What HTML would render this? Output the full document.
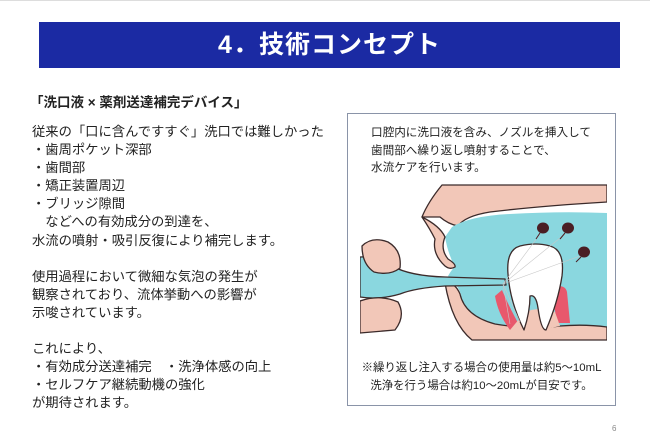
<!DOCTYPE html>
<html><head><meta charset="utf-8"><style>
body{margin:0;width:650px;height:447px;background:#fff;position:relative;overflow:hidden;font-family:"Liberation Sans","Noto Sans CJK JP",sans-serif;color:#222}
.top{position:absolute;left:0;top:0;width:650px;height:1px;background:#ddd}
.banner{position:absolute;left:39px;top:22px;width:581px;height:46px;background:#1b2aa3;color:#fff;font-size:25px;font-weight:bold;text-align:center;line-height:46px;letter-spacing:1px}
.sub{position:absolute;left:30px;top:91px;font-size:13.5px;font-weight:bold}
.body{position:absolute;left:32px;top:123px;font-size:13.3px;line-height:18.1px;white-space:pre}
.box{position:absolute;left:347px;top:113px;width:269px;height:293px;border:1px solid #8a94a8;box-sizing:border-box}
.bt{position:absolute;left:371px;top:124px;font-size:11.6px;line-height:17.5px;white-space:pre}
.fn{position:absolute;left:347px;top:359px;width:269px;text-align:center;font-size:11.4px;line-height:18px}
.pg{position:absolute;left:612px;top:424px;font-size:8px;color:#888}
</style></head><body>
<div class="top"></div>
<div class="banner">4．技術コンセプト</div>
<div class="sub">「洗口液 × 薬剤送達補完デバイス」</div>
<div class="body">従来の「口に含んですすぐ」洗口では難しかった
・歯周ポケット深部
・歯間部
・矯正装置周辺
・ブリッジ隙間
　などへの有効成分の到達を、
水流の噴射・吸引反復により補完します。

使用過程において微細な気泡の発生が
観察されており、流体挙動への影響が
示唆されています。

これにより、
・有効成分送達補完　・洗浄体感の向上
・セルフケア継続動機の強化
が期待されます。</div>
<div class="box"></div>
<div class="bt">口腔内に洗口液を含み、ノズルを挿入して
歯間部へ繰り返し噴射することで、
水流ケアを行います。</div>
<svg style="position:absolute;left:360px;top:184px" width="247" height="168" viewBox="0 0 247 168">
<g stroke="#3b2a2a" stroke-width="1.3" stroke-linejoin="round">
<!-- upper face skin -->
<path d="M82 1 L247 1 L247 18 Q180 22 130 28 Q105 32 98 42 Q88 40 80 33 Q70 33 62 33 Q68 18 82 1 Z" fill="#f2c7b8"/>
<!-- cyan mouth -->
<path d="M92 43 Q110 32 150 30 Q200 27 247 29 L247 143 Q215 140 195 143 Q160 144 135 140 Q108 132 102 115 Q100 105 95 100 L88 92 Q92 85 95 83 Q88 70 85 53 Z" fill="#8ad7df" stroke="none"/>
<!-- upper lip -->
<path d="M62 33 Q80 42 85 53 Q80 65 88 75 Q96 80 95 83 Q90 86 85 82 Q72 70 75 55 Q70 45 62 33 Z" fill="#f2c7b8"/>
<!-- lower jaw skin -->
<path d="M85 99 Q95 98 100 110 Q105 132 135 140 Q170 146 200 142 Q225 140 247 143 L247 156 L112 156 Q92 140 85 99 Z" fill="#f2c7b8"/>
<!-- gums -->
<path d="M142 106 Q150 125 162 146 L150 146 Q138 130 135 112 Z" fill="#e8586c" stroke="none"/>
<path d="M194 103 Q205 100 207 108 L210 139 L198 139 Q192 120 194 103 Z" fill="#e8586c" stroke="none"/>
<path d="M150 146 Q165 150 200 142 L195 128 Q180 122 165 128 Z" fill="#f2c7b8" stroke="none"/>
<!-- tooth -->
<path d="M160 62 Q146 66 148 90 Q150 118 164 146 Q170 128 170 112 Q176 110 178 124 Q181 146 186 146 Q198 118 202 92 Q205 66 190 62 Q176 58 160 62 Z" fill="#fff"/>
<!-- nozzle handle -->
<path d="M0 73 Q20 72 32 82 Q50 92 85 93 L145 95 L146 101 L85 102 Q55 104 40 110 Q20 116 0 113 Z" fill="#8ad7df"/>
<!-- fingers -->
<path d="M2 62 Q12 52 28 58 Q42 66 40 84 Q30 92 14 88 Q2 80 2 62Z" fill="#f2c7b8"/>
<path d="M0 117 Q20 110 38 118 Q46 132 35 146 L0 149 Z" fill="#f2c7b8"/>
</g>
<g stroke="#c8c8c8" stroke-width="0.6"><line x1="143" y1="100" x2="180" y2="50"/><line x1="143" y1="100" x2="205" y2="50"/><line x1="143" y1="100" x2="220" y2="72"/><line x1="143" y1="100" x2="160" y2="138"/><line x1="143" y1="100" x2="150" y2="140"/></g>
<g fill="#4a1e24"><ellipse cx="183" cy="44" rx="6" ry="5.5"/><ellipse cx="208" cy="44" rx="6" ry="5.5"/><ellipse cx="224" cy="68" rx="6" ry="5.5"/></g>
<g stroke="#4a1e24" stroke-width="1"><line x1="180" y1="49" x2="176" y2="55"/><line x1="205" y1="49" x2="200" y2="55"/><line x1="221" y1="73" x2="216" y2="78"/></g>
</svg>
<div class="fn">※繰り返し注入する場合の使用量は約5～10mL<br>洗浄を行う場合は約10～20mLが目安です。</div>
<div class="pg">6</div>
</body></html>
